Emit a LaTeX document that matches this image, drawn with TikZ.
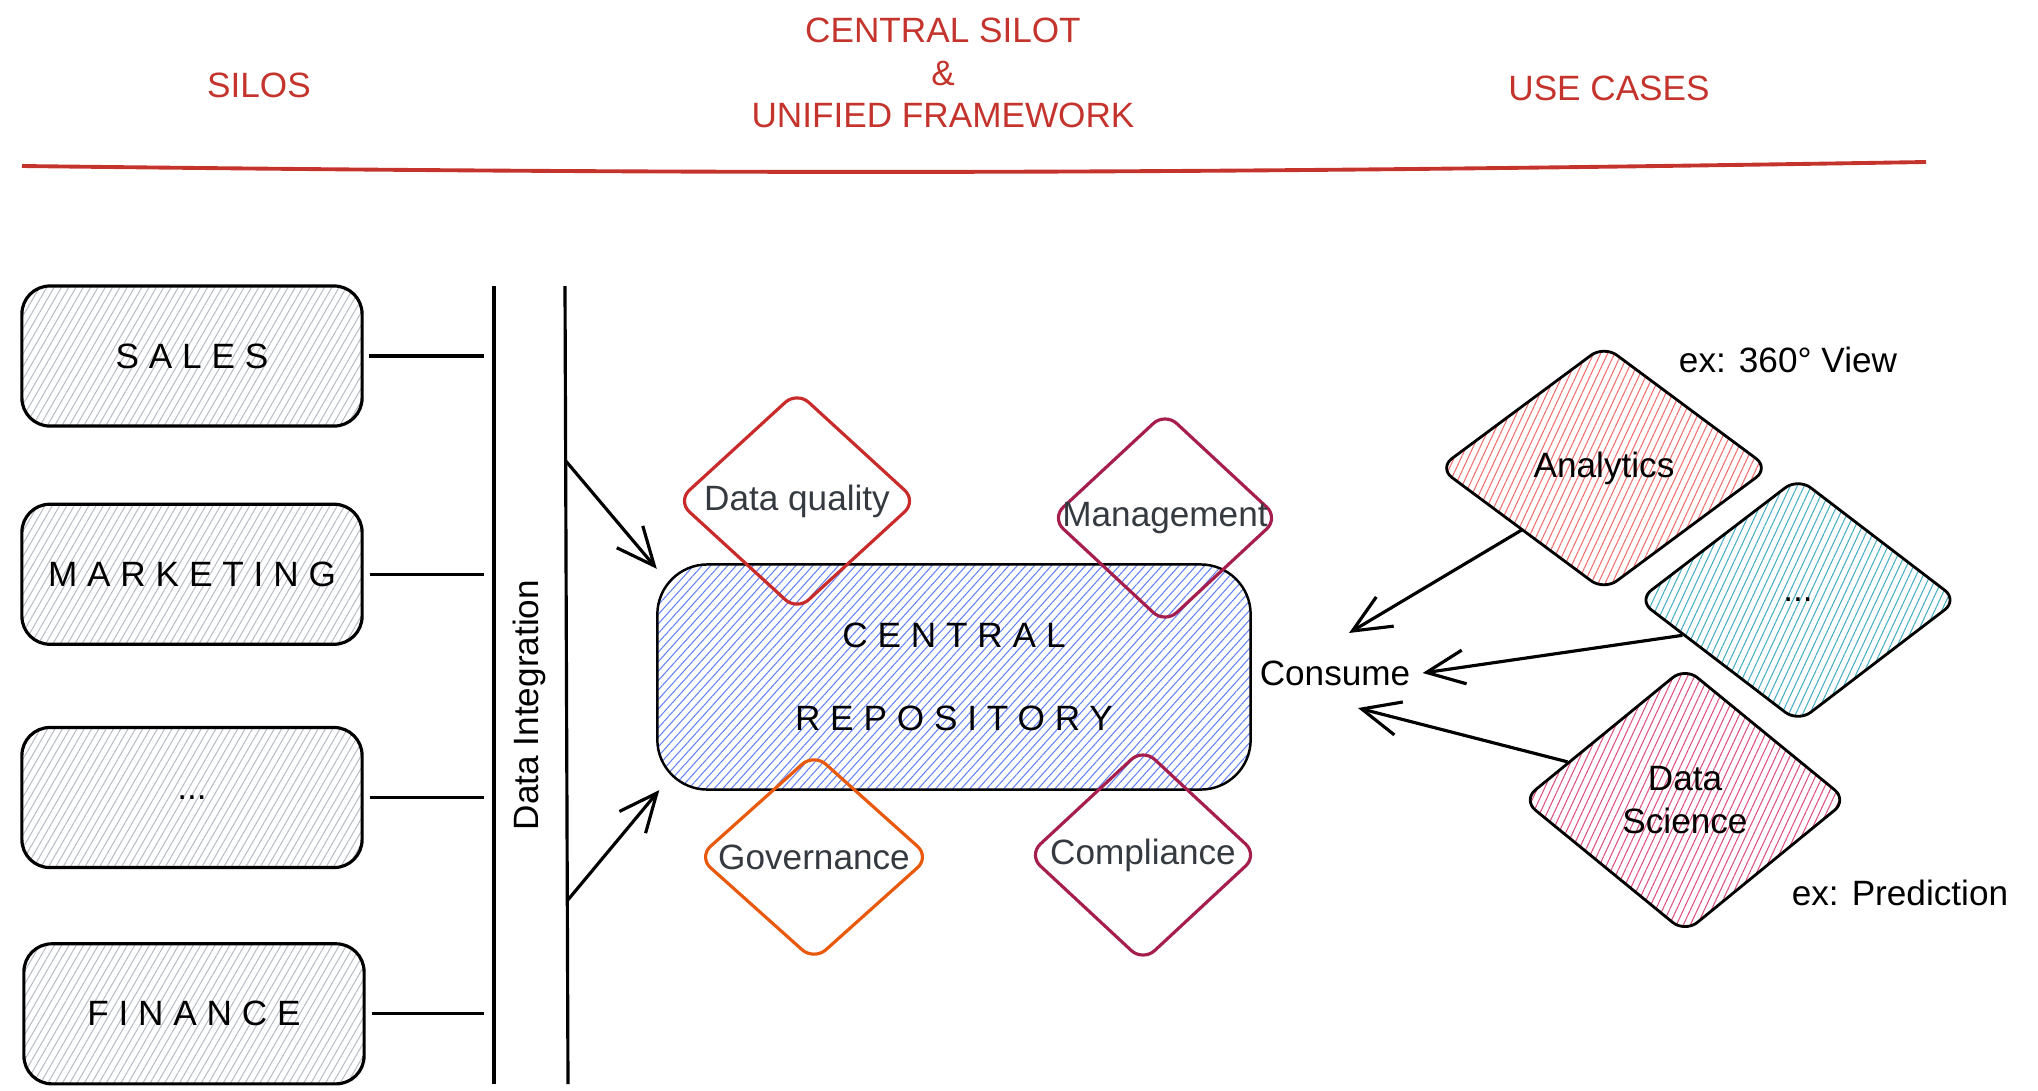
\documentclass[tikz,border=0pt]{standalone}
\usepackage{fontspec}
\setmainfont{Liberation Sans}
\newfontfamily\spacedfont{Liberation Sans}[LetterSpace=28]
\usetikzlibrary{%
    arrows.meta,
    patterns.meta,
    positioning,
    shapes.geometric
}
\definecolor{headred}{RGB}{196,52,45}
\definecolor{hatchgray}{RGB}{185,190,196}
\definecolor{hatchblue}{RGB}{100,130,250}
\definecolor{dqred}{RGB}{201,42,42}
\definecolor{wine}{RGB}{166,30,77}
\definecolor{govorange}{RGB}{232,89,12}
\definecolor{anared}{RGB}{240,110,110}
\definecolor{etcteal}{RGB}{70,175,195}
\definecolor{dspink}{RGB}{220,80,130}
\definecolor{labelgray}{RGB}{52,58,64}
\tikzset{headarrow/.style = {-{Straight Barb[length=.38cm,width=.34cm]}}}
\tikzset{feed/.style = {line width=.9pt,headarrow}}
\tikzset{link/.style = {line width=.9pt}}
\tikzset{silo/.style = {draw, line width=.9pt, rounded corners=.28cm,
    minimum width=3.4cm, minimum height=1.4cm,
    pattern={Lines[angle=60,distance=1.8pt,line width=.3pt]}, pattern color=hatchgray}}
\tikzset{pillar/.style = {diamond, draw, line width=.9pt, rounded corners=.16cm, inner sep=0pt}}
\tikzset{usecase/.style = {pillar, line width=.8pt, minimum width=3.3cm, minimum height=2.45cm,
    pattern={Lines[angle=65,distance=1.8pt,line width=.3pt]}}}

\begin{document}
\begin{tikzpicture}[x=0.01cm, y=-0.01cm]
    \useasboundingbox (0,0) rectangle (2038,1090);

    % headers
    \node[headred] (silos) at (259,85) {SILOS};
    \node[headred, align=center] (central) at (943,73) {CENTRAL SILOT\\\&\\UNIFIED FRAMEWORK};
    \node[headred] (cases) at (1609,88) {USE CASES};
    \coordinate (ruleL) at (22,166);
    \coordinate (ruleR) at (1926,162);
    \draw[headred, line width=1.1pt] (ruleL) to[bend right=0.8] (ruleR);

    % silos
    \node[silo, font=\spacedfont] (sales) at (192,356) {SALES};
    \node[silo, font=\spacedfont, below=.76cm of sales] (mkt) {MARKETING};
    \node[silo, below=.8cm of mkt] (more) {...};
    \node[silo, font=\spacedfont, below=.73cm of more, xshift=.02cm] (fin) {FINANCE};

    % integration bus
    \coordinate (busLtop) at (494,286);
    \coordinate (busLbot) at (494,1084);
    \coordinate (busRtop) at (565,286);
    \coordinate (busRbot) at (568,1084);
    \draw[link] (busLtop) -- (busLbot);
    \draw[link] (busRtop) -- (busRbot);
    \node[rotate=90] (integ) at (529,705) {Data Integration};
    \foreach \Silo in {sales, mkt, more, fin}
        \draw[link, shorten >=.1cm] ([xshift=.06cm]\Silo.east) -- (\Silo.east -| busLtop);

    % central repository
    \node[draw, line width=.7pt, rounded corners=.5cm, minimum width=5.93cm, minimum height=2.25cm,
          pattern={Lines[angle=48,distance=1.8pt,line width=.3pt]}, pattern color=hatchblue,
          align=center, font=\spacedfont] (repo) at (954,677) {CENTRAL\\[.41cm]REPOSITORY};
    \coordinate (feedA) at (565,460);
    \coordinate (feedB) at (567,901);
    \draw[feed] (feedA) -- (repo.160);
    \draw[feed] (feedB) -- (repo.201);

    \node[pillar, draw=dqred, minimum width=2.4cm, minimum height=2.2cm,
          label={[text=labelgray]center:Data quality}] (dq) at (797,501) {};
    \node[pillar, draw=wine, minimum width=2.28cm, minimum height=2.12cm,
          label={[text=labelgray]center:Management}] (mgmt) at (1165,518) {};
    \node[pillar, draw=govorange, minimum width=2.32cm, minimum height=2.08cm,
          label={[text=labelgray]center:Governance}] (gov) at (814,857) {};
    \node[pillar, draw=wine, minimum width=2.3cm, minimum height=2.14cm,
          label={[text=labelgray]center:Compliance}] (comp) at (1143,855) {};

    % use cases
    \node[usecase, pattern color=anared, label=center:Analytics] (ana) at (1604,468) {};
    \node[usecase, pattern color=etcteal, minimum width=3.2cm, label=center:...] (etc) at (1798,600) {};
    \node[usecase, pattern color=dspink, minimum width=3.25cm, minimum height=2.66cm,
          label={[align=center]center:Data\\Science}] (ds) at (1685,800) {};
    \node (view) at (1788,360) {ex: 360° View};
    \node (pred) at (1900,893) {ex: Prediction};
    \node (con) at (1335,673) {Consume};

    \draw[feed] (ana.217) -- ([xshift=.14cm,yshift=.4cm]con.center);
    \draw[feed] (etc.197) -- (con.east);
    \draw[feed] (ds.162) -- ([xshift=.23cm,yshift=-.35cm]con.center);
\end{tikzpicture}
\end{document}
